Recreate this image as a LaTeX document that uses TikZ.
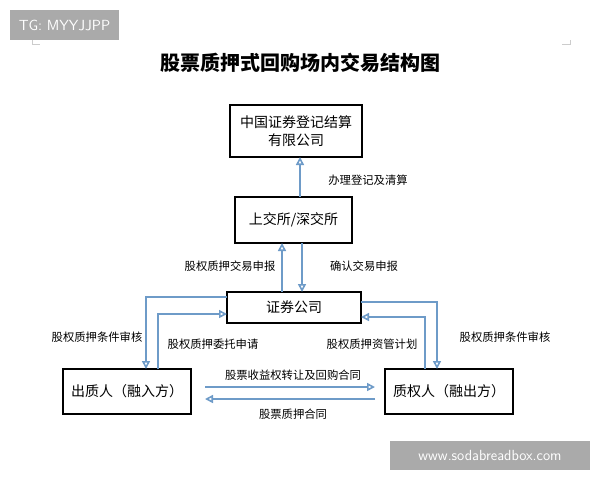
\documentclass[tikz,border=0pt]{standalone}
\usepackage{fontspec}
\setmainfont{Noto Sans CJK SC}
\usetikzlibrary{arrows.meta}
\definecolor{flow}{RGB}{110,155,200}
\definecolor{wmgray}{RGB}{170,170,170}
\begin{document}
\begin{tikzpicture}[x=0.75pt,y=-0.75pt]
\tikzstyle{box}=[draw, thick, minimum height=0.75pt, inner sep=0pt]
\tikzstyle{flowline}=[draw=flow, line width=1.2pt, -{Stealth[length=6pt,width=6pt,inset=0pt,open]}]
\tikzstyle{lab}=[font=\fontsize{8.5}{10}\selectfont]
\useasboundingbox (0,0) rectangle (600,480);
\fill[white] (0,0) rectangle (600,480);
% watermarks
\fill[wmgray] (10,10) rectangle (119,40);
\node[text=white, font=\fontsize{11}{13}\selectfont\sffamily] (tg) at (64.5,25) {TG: MYYJJPP};
\fill[wmgray] (390,441) rectangle (590,470);
\node[text=white, font=\fontsize{11}{13}\selectfont\sffamily] (www) at (490,455.5) {www.sodabreadbox.com};
\draw[gray!40] (32,40) -- (32,44) -- (40,44);
\draw[gray!40] (570,40) -- (570,44) -- (562,44);
% title
\node[font=\fontsize{15}{18}\selectfont\bfseries] (title) at (300,63) {股票质押式回购场内交易结构图};
% boxes
\draw[box] (230,105) rectangle (362,157);
\node[font=\fontsize{10.5}{14}\selectfont, align=center] (csdc) at (296,131) {中国证券登记结算\\有限公司};
\draw[box] (235,197) rectangle (352,243);
\node[font=\fontsize{10.5}{14}\selectfont] (sse) at (293.5,220) {上交所/深交所};
\draw[box] (227,292) rectangle (361,323);
\node[font=\fontsize{10.5}{14}\selectfont] (zq) at (294,307.5) {证券公司};
\draw[box] (63,369) rectangle (191,414);
\node[font=\fontsize{10.5}{14}\selectfont] (czr) at (127,391.5) {出质人（融入方）};
\draw[box] (385,369) rectangle (513,414);
\node[font=\fontsize{10.5}{14}\selectfont] (zqr) at (449,391.5) {质权人（融出方）};
% connectors
\draw[flowline] (300,197) -- (300,157);
\draw[flowline] (282,292) -- (282,243);
\draw[flowline] (302,243) -- (302,292);
\draw[flowline] (227,297) -- (146,297) -- (146,369);
\draw[flowline] (158,369) -- (158,314) -- (227,314);
\draw[flowline] (361,302) -- (437,302) -- (437,369);
\draw[flowline] (425,369) -- (425,317) -- (361,317);
\draw[flowline] (205,387) -- (375,387);
\draw[flowline] (375,399) -- (205,399);
% labels
\node[lab] (l1) at (368,180) {办理登记及清算};
\node[lab] (l2) at (230,266) {股权质押交易申报};
\node[lab] (l3) at (364,266) {确认交易申报};
\node[lab] (l4) at (97,337) {股权质押条件审核};
\node[lab] (l5) at (213,344) {股权质押委托申请};
\node[lab] (l6) at (372,344) {股权质押资管计划};
\node[lab] (l7) at (505,337) {股权质押条件审核};
\node[lab] (l8) at (293,375) {股票收益权转让及回购合同};
\node[lab] (l9) at (293,414) {股票质押合同};
\end{tikzpicture}
\end{document}
